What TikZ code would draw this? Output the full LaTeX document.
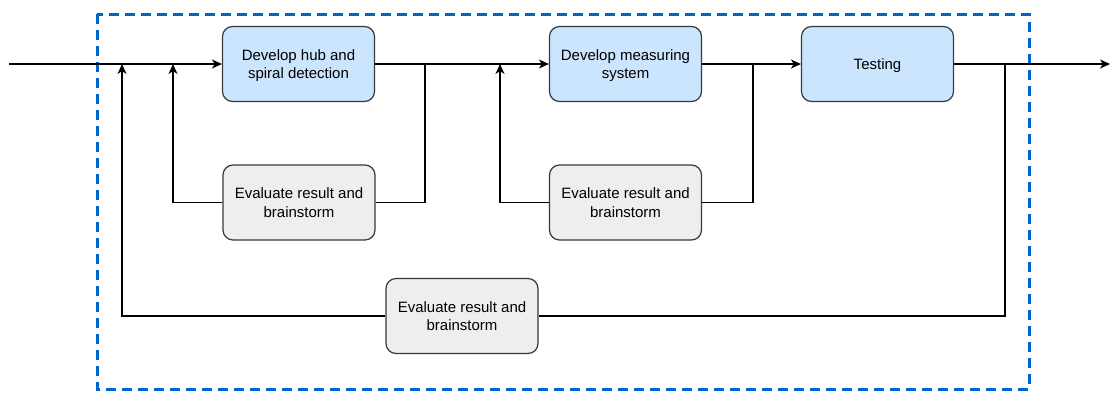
\documentclass[tikz,border=0pt]{standalone}
\usepackage{fontspec}
\setmainfont{Liberation Sans}
\usetikzlibrary{arrows.meta}
\definecolor{stepfill}{HTML}{CCE5FF}
\definecolor{evalfill}{HTML}{EEEEEE}
\definecolor{edgegray}{HTML}{36393D}
\definecolor{frameblue}{HTML}{0066CC}
\begin{document}
\begin{tikzpicture}[x=1pt,y=-1pt,
  box/.style={draw=edgegray, line width=1.2pt, rounded corners=10pt,
    minimum width=152pt, minimum height=75pt, inner sep=0pt, align=center,
    text depth=0pt, font=\fontsize{15}{18.8}\selectfont},
  stepbox/.style={box, fill=stepfill},
  evalbox/.style={box, fill=evalfill},
  link/.style={line width=1.3pt, draw=black},
  arr/.style={link, -{Stealth[length=10pt,width=9pt,inset=3pt]}}]
\useasboundingbox (0,0) rectangle (1111,392);

% group frame
\draw[frameblue, line width=3pt, dash pattern=on 10pt off 6pt]
  (97,14) rectangle (1029,389);

% main steps
\node[stepbox] (hub)  at (298.5,64)  {Develop hub and\\spiral detection};
\node[stepbox] (meas) at (625.5,64)  {Develop measuring\\system};
\node[stepbox] (test) at (877.5,64)  {Testing};

% evaluation steps
\node[evalbox] (ev1) at (299,202.5)  {Evaluate result and\\brainstorm};
\node[evalbox] (ev2) at (625.5,202.5){Evaluate result and\\brainstorm};
\node[evalbox] (ev3) at (462,316)    {Evaluate result and\\brainstorm};

% entry and exit
\coordinate (in)  at (9,64);
\coordinate (out) at (1110,64);

% feedback junctions on the main line
\coordinate (j1) at (173,64);
\coordinate (j2) at (500,64);
\coordinate (j3) at (122,64);

% main flow
\draw[arr] (in) -- (hub.west);
\draw[arr] (hub.east) -- (meas.west);
\draw[arr] (meas.east) -- (test.west);
\draw[arr] (test.east) -- (out);

% inner loop around the hub detection
\draw[link] (hub.east) -- ++(50,0) |- (ev1.east);
\draw[arr] (ev1.west) -| (j1);

% inner loop around the measuring system
\draw[link] (meas.east) -- ++(51,0) |- (ev2.east);
\draw[arr] (ev2.west) -| (j2);

% outer loop around the whole process
\draw[link] (test.east) -- ++(51,0) |- (ev3.east);
\draw[arr] (ev3.west) -| (j3);
\end{tikzpicture}
\end{document}
